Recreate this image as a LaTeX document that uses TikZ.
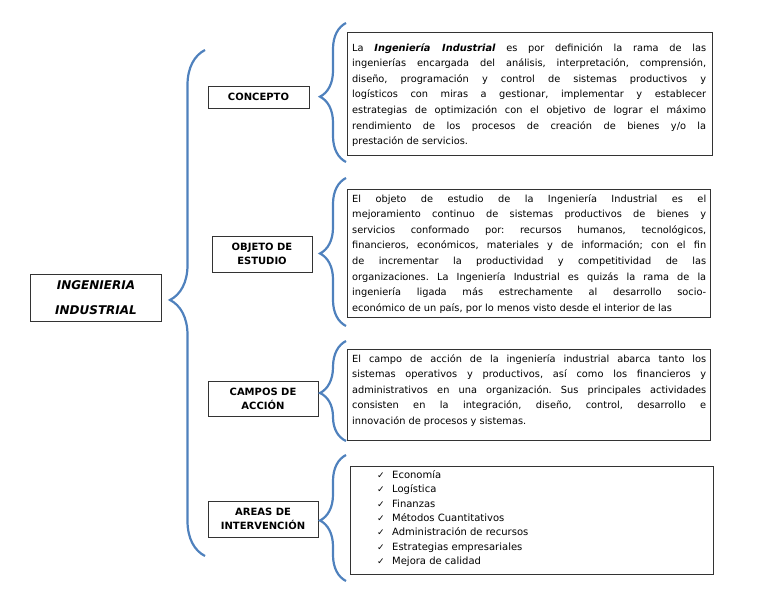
\documentclass[tikz,border=0pt]{standalone}
\usepackage{fontspec}
\setmainfont{DejaVu Sans}
\usetikzlibrary{decorations.pathreplacing}
\definecolor{azul}{RGB}{79,129,189}
\frenchspacing

\begin{document}
\begin{tikzpicture}[x=1pt, y=-1pt,
	every node/.style={font=\fontsize{9.8}{15.6}\selectfont},
	marco/.style={draw=black!80, line width=0.9pt, anchor=north west, inner sep=0pt},
	tema/.style={draw=black!80, line width=0.9pt, align=center, inner sep=0pt, font=\fontsize{10}{14}\selectfont\bfseries},
	txt/.style={anchor=north west, text width=354pt, align=justify, inner sep=0pt},
	llave/.style 2 args={draw=azul, line width=2.2pt, decorate, decoration={brace, amplitude=#1, aspect=#2}},
	]
	\useasboundingbox (0,0) rectangle (768,594);
	\node[draw=black!80, line width=0.9pt, minimum width=131pt, minimum height=47pt, align=center, font=\fontsize{12}{25}\selectfont\bfseries\itshape] (ing) at (96,298) {INGENIERIA\\INDUSTRIAL};

	\node[tema, minimum width=101pt, minimum height=22pt] (concepto) at (258.5,97) {CONCEPTO};
	\node[tema, minimum width=100pt, minimum height=36pt] (objeto) at (262,254) {OBJETO DE\\ESTUDIO};
	\node[tema, minimum width=110pt, minimum height=35pt] (campos) at (263,398.5) {CAMPOS DE\\ACCIÓN};
	\node[tema, minimum width=110pt, minimum height=36pt] (areas) at (263,519) {AREAS DE\\INTERVENCIÓN};

	\node[marco, minimum width=365pt, minimum height=123pt] (defMarco) at (347,32) {};
	\node[marco, minimum width=363pt, minimum height=128pt] (objMarco) at (347,189) {};
	\node[marco, minimum width=363pt, minimum height=91pt] (camMarco) at (347,349) {};
	\node[marco, minimum width=363pt, minimum height=108pt] (areMarco) at (350,466) {};

	\node[txt] (defTexto) at ([xshift=5pt, yshift=-11pt]defMarco.north west) {La \textbf{\textit{Ingeniería Industrial}} es por definición la rama de las\linebreak
		ingenierías encargada del análisis, interpretación, comprensión,\linebreak
		diseño, programación y control de sistemas productivos y\linebreak
		logísticos con miras a gestionar, implementar y establecer\linebreak
		estrategias de optimización con el objetivo de lograr el máximo\linebreak
		rendimiento de los procesos de creación de bienes y/o la\linebreak
		prestación de servicios.};
	\node[txt] (objTexto) at ([xshift=5pt, yshift=-5pt]objMarco.north west) {\parfillskip=0pt El objeto de estudio de la Ingeniería Industrial es el\linebreak
		mejoramiento continuo de sistemas productivos de bienes y\linebreak
		servicios conformado por: recursos humanos, tecnológicos,\linebreak
		financieros, económicos, materiales y de información; con el fin\linebreak
		de incrementar la productividad y competitividad de las\linebreak
		organizaciones. La Ingeniería Industrial es quizás la rama de la\linebreak
		ingeniería ligada más estrechamente al desarrollo socio-\linebreak
		económico de un país, por lo menos visto desde el interior de las};
	\node[txt] (camTexto) at ([xshift=5pt, yshift=-5pt]camMarco.north west) {El campo de acción de la ingeniería industrial abarca tanto los\linebreak
		sistemas operativos y productivos, así como los financieros y\linebreak
		administrativos en una organización. Sus principales actividades\linebreak
		consisten en la integración, diseño, control, desarrollo e\linebreak
		innovación de procesos y sistemas.};
	\node[anchor=north west, inner sep=0pt, align=left, font=\fontsize{10}{14.4}\selectfont] (areTexto) at ([xshift=27pt, yshift=-4pt]areMarco.north west) {%
		\makebox[15pt][l]{\small ✓}Economía\\
		\makebox[15pt][l]{\small ✓}Logística\\
		\makebox[15pt][l]{\small ✓}Finanzas\\
		\makebox[15pt][l]{\small ✓}Métodos Cuantitativos\\
		\makebox[15pt][l]{\small ✓}Administración de recursos\\
		\makebox[15pt][l]{\small ✓}Estrategias empresariales\\
		\makebox[15pt][l]{\small ✓}Mejora de calidad};

	\coordinate (ingAbajo) at (205,556);
	\coordinate (ingArriba) at (205,50);
	\coordinate (defAbajo) at (346,162);
	\coordinate (defArriba) at (346,23);
	\coordinate (objAbajo) at (346,326);
	\coordinate (objArriba) at (346,178);
	\coordinate (camAbajo) at (346,441);
	\coordinate (camArriba) at (346,341);
	\coordinate (areAbajo) at (346,581);
	\coordinate (areArriba) at (346,455);
	\draw[llave={35pt}{0.506}] (ingAbajo) -- (ingArriba);
	\draw[llave={26pt}{0.47}] (defAbajo) -- (defArriba);
	\draw[llave={26pt}{0.49}] (objAbajo) -- (objArriba);
	\draw[llave={26pt}{0.48}] (camAbajo) -- (camArriba);
	\draw[llave={26pt}{0.48}] (areAbajo) -- (areArriba);
\end{tikzpicture}
\end{document}
